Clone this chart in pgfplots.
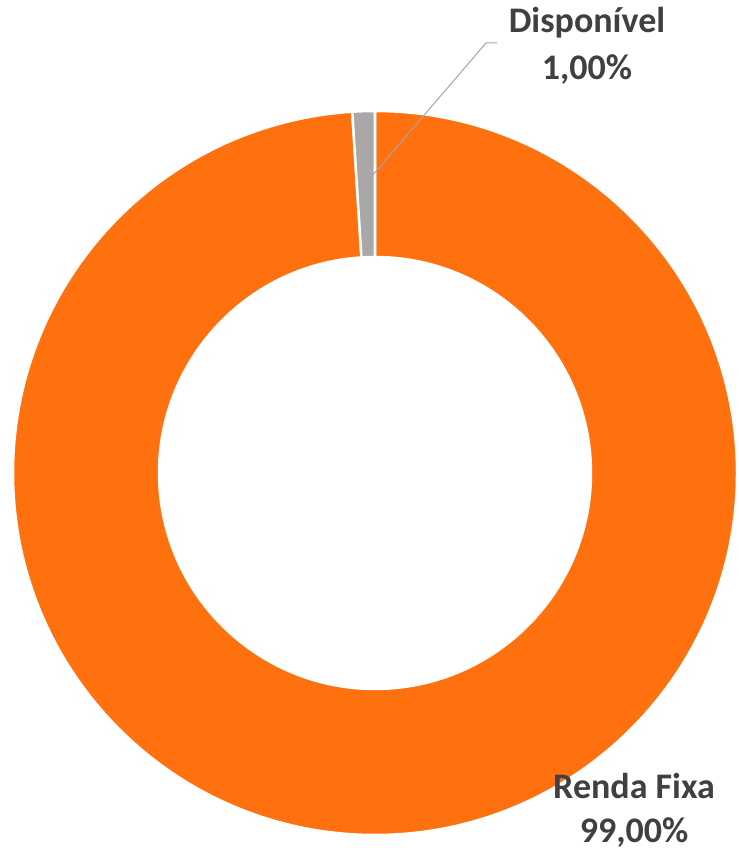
\documentclass[border=0pt]{standalone}
\usepackage{pgfplots}
\pgfplotsset{compat=1.18}
\usepackage{pgfplotstable}
\usepackage{fontspec}
\setmainfont{Carlito}
\definecolor{cOrange}{HTML}{FF700F}
\definecolor{cGray}{HTML}{A9A7A7}
\definecolor{cText}{HTML}{404040}
\definecolor{cLine}{HTML}{A6A6A6}
\pgfplotstableread{
label value
RendaFixa 99
Disponivel 1
}\piedata
\begin{document}
\begin{tikzpicture}
\pgfplotstablegetelem{0}{value}\of\piedata
\pgfmathsetmacro{\vA}{\pgfplotsretval}
\pgfplotstablegetelem{1}{value}\of\piedata
\pgfmathsetmacro{\vB}{\pgfplotsretval}
\pgfmathsetmacro{\tot}{\vA+\vB}
\pgfmathsetmacro{\endA}{90-(\vA/\tot)*360}
\pgfmathsetmacro{\endB}{\endA-(\vB/\tot)*360}
\begin{axis}[
  hide axis, x=1pt, y=1pt,
  xmin=0, xmax=735, ymin=0, ymax=853,
  clip=false,
]
\path (axis cs:0,0) rectangle (axis cs:735,853);
\begin{scope}[shift={(axis cs:375,380)}]
\fill[cOrange, draw=white, line width=2.5pt]
  (90:362pt) arc[start angle=90, end angle=\endA, radius=362pt]
  -- (\endA:216pt) arc[start angle=\endA, end angle=90, radius=216pt] -- cycle;
\fill[cGray, draw=white, line width=2.5pt]
  (\endA:362pt) arc[start angle=\endA, end angle=\endB, radius=362pt]
  -- (\endB:216pt) arc[start angle=\endB, end angle=\endA, radius=216pt] -- cycle;
\end{scope}
\addplot[cLine, line width=1pt, no marks] coordinates {(497,810) (486,810) (366,670)};
\tikzset{lbl/.style={font=\fontsize{36}{40}\selectfont\bfseries, text=cText, anchor=base, inner sep=0pt}}
\node[lbl] at (axis cs:587,820) {Disponível};
\node[lbl] at (axis cs:587,773) {1,00\%};
\node[lbl] at (axis cs:634,54) {Renda Fixa};
\node[lbl] at (axis cs:634,10) {99,00\%};
\end{axis}
\end{tikzpicture}
\end{document}
